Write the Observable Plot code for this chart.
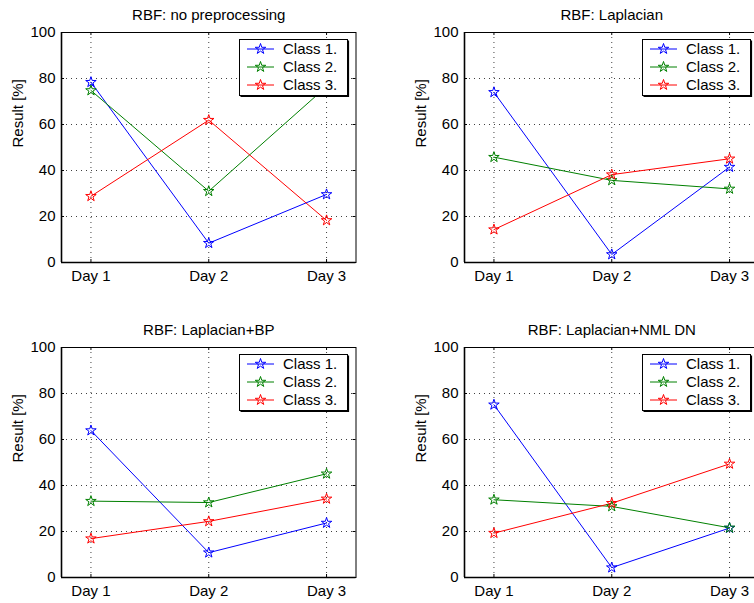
<!DOCTYPE html>
<html>
<head>
<meta charset="utf-8">
<script src="https://cdn.jsdelivr.net/npm/d3@7"></script>
<script src="https://cdn.jsdelivr.net/npm/@observablehq/plot@0.6"></script>
<style>
  html, body { margin: 0; padding: 0; background: #fff; }
  #grid { position: relative; width: 754px; height: 603px; overflow: hidden; background: #fff; }
  #grid > div { position: absolute; }
  #grid svg { overflow: visible; max-width: none !important; }
</style>
</head>
<body>
<div id="grid"></div>
<script>
// Recognition results per class over three days, for four RBF setups.
const days = [1, 2, 3];
const dayLabels = ["Day 1", "Day 2", "Day 3"];
const yTicks = [0, 20, 40, 60, 80, 100];
const classes = ["Class 1.", "Class 2.", "Class 3."];
const classColors = ["#0000ff", "#008000", "#ff0000"];

const titles = [
  "RBF: no preprocessing",
  "RBF: Laplacian",
  "RBF: Laplacian+BP",
  "RBF: Laplacian+NML DN"
];

// rows: Class 1., Class 2., Class 3.; columns: Day 1, Day 2, Day 3
const noPreprocessing = [
  [78.4, 8.4, 29.6],
  [74.8, 31.0, 76.5],
  [28.8, 61.9, 18.3]
];
const laplacian = [
  [74.0, 3.5, 41.5],
  [45.8, 35.7, 32.0],
  [14.3, 38.2, 45.1]
];
const laplacianBP = [
  [63.9, 10.8, 23.7],
  [33.2, 32.6, 45.1],
  [16.9, 24.4, 34.2]
];
const laplacianNmlDn = [
  [75.1, 4.3, 21.5],
  [33.8, 30.9, 21.6],
  [19.3, 32.3, 49.4]
];

const font = "'Liberation Sans', Arial, Helvetica, sans-serif";
const fontSize = 15;

// Panel placement on the page (frame = the boxed axes area)
const frameW = 294.5, frameH = 230;
const layout = [
  {title: titles[0], values: noPreprocessing, left: 0,   top: 0,   width: 377, height: 300, mL: 61, mT: 32},
  {title: titles[1], values: laplacian,       left: 377, top: 0,   width: 400, height: 300, mL: 87, mT: 32},
  {title: titles[2], values: laplacianBP,     left: 0,   top: 300, width: 377, height: 303, mL: 61, mT: 47},
  {title: titles[3], values: laplacianNmlDn,  left: 377, top: 300, width: 400, height: 303, mL: 87, mT: 47}
];

// Boxed legend in the upper right corner of the frame
function legendMark(index, scales, values, dims) {
  const fl = dims.marginLeft, ft = dims.marginTop;
  const g = d3.create("svg:g");
  const bx = fl + 178.5, by = ft + 7.5, bw = 108, bh = 56;
  g.append("rect").attr("x", bx).attr("y", by).attr("width", bw).attr("height", bh)
    .attr("fill", "#fff").attr("stroke", "#000").attr("stroke-width", 1);
  g.append("path").attr("d", `M${bx + bw + 1},${by + 1}V${by + bh + 1}H${bx + 1}`)
    .attr("fill", "none").attr("stroke", "#000").attr("stroke-width", 1.2);
  const star = d3.symbol(d3.symbolStar, 3.3 * 3.3 * Math.PI)();
  classes.forEach((c, i) => {
    const cy = ft + 17 + i * 18;
    const col = scales.color(c);
    g.append("line").attr("x1", fl + 186).attr("x2", fl + 213).attr("y1", cy).attr("y2", cy)
      .attr("stroke", col).attr("stroke-width", 1);
    g.append("path").attr("d", star).attr("transform", `translate(${fl + 199.5},${cy})`)
      .attr("fill", "none").attr("stroke", col).attr("stroke-width", 1);
    g.append("text").attr("x", fl + 222).attr("y", cy).attr("dy", "0.36em")
      .attr("text-anchor", "start")
      .attr("font-family", font).attr("font-size", fontSize).attr("fill", "#000").text(c);
  });
  return g.node();
}

function panel(p) {
  const rows = [];
  p.values.forEach((series, ci) => {
    series.forEach((v, di) => rows.push({day: days[di], value: v, cls: classes[ci]}));
  });
  const fw = frameW, fh = frameH;
  const chart = Plot.plot({
    width: p.width,
    height: p.height,
    marginLeft: p.mL,
    marginTop: p.mT,
    marginRight: p.width - p.mL - fw,
    marginBottom: p.height - p.mT - fh,
    style: {fontFamily: font, fontSize: fontSize + "px", color: "#000", background: "transparent"},
    x: {domain: [0.75, 3.25], axis: null},
    y: {domain: [0, 100], axis: null},
    color: {domain: classes, range: classColors},
    marks: [
      // dotted grid
      Plot.gridX(days, {stroke: "#000", strokeOpacity: 0.75, strokeDasharray: "1,4"}),
      Plot.gridY(yTicks.slice(1, -1), {stroke: "#000", strokeOpacity: 0.75, strokeDasharray: "1,4"}),
      // inward tick marks on all four sides
      Plot.tickX(days, {x: d => d, insetTop: fh - 3, stroke: "#000"}),
      Plot.tickX(days, {x: d => d, insetBottom: fh - 3, stroke: "#000"}),
      Plot.tickY(yTicks, {y: d => d, insetRight: fw - 3, stroke: "#000"}),
      Plot.tickY(yTicks, {y: d => d, insetLeft: fw - 3, stroke: "#000"}),
      // axes labels
      Plot.axisY({ticks: yTicks, tickSize: 0, tickPadding: 6, label: null, fontSize}),
      Plot.axisX({ticks: days, tickSize: 0, tickPadding: 8, label: null, fontSize,
        tickFormat: d => dayLabels[days.indexOf(d)]}),
      Plot.text([p.title], {frameAnchor: "top", dy: -13, lineAnchor: "bottom", fontSize, fill: "#000"}),
      Plot.text(["Result [%]"], {frameAnchor: "left", dx: -38.5, rotate: -90, lineAnchor: "bottom", fontSize, fill: "#000"}),
      // data
      Plot.line(rows, {x: "day", y: "value", z: "cls", stroke: "cls", strokeWidth: 1}),
      Plot.dot(rows, {x: "day", y: "value", stroke: "cls", symbol: "star", r: 3.3, fill: "none", strokeWidth: 1}),
      // box
      Plot.frame({stroke: "#000", strokeWidth: 1}),
      Plot.ruleY([0], {stroke: "#000", strokeWidth: 1.6}),
      Plot.ruleX([0.75], {stroke: "#000", strokeWidth: 1.6}),
      legendMark
    ]
  });
  const wrap = document.createElement("div");
  wrap.style.left = p.left + "px";
  wrap.style.top = p.top + "px";
  wrap.style.width = p.width + "px";
  wrap.style.height = p.height + "px";
  wrap.appendChild(chart);
  document.getElementById("grid").appendChild(wrap);
}

layout.forEach(panel);
</script>
</body>
</html>
